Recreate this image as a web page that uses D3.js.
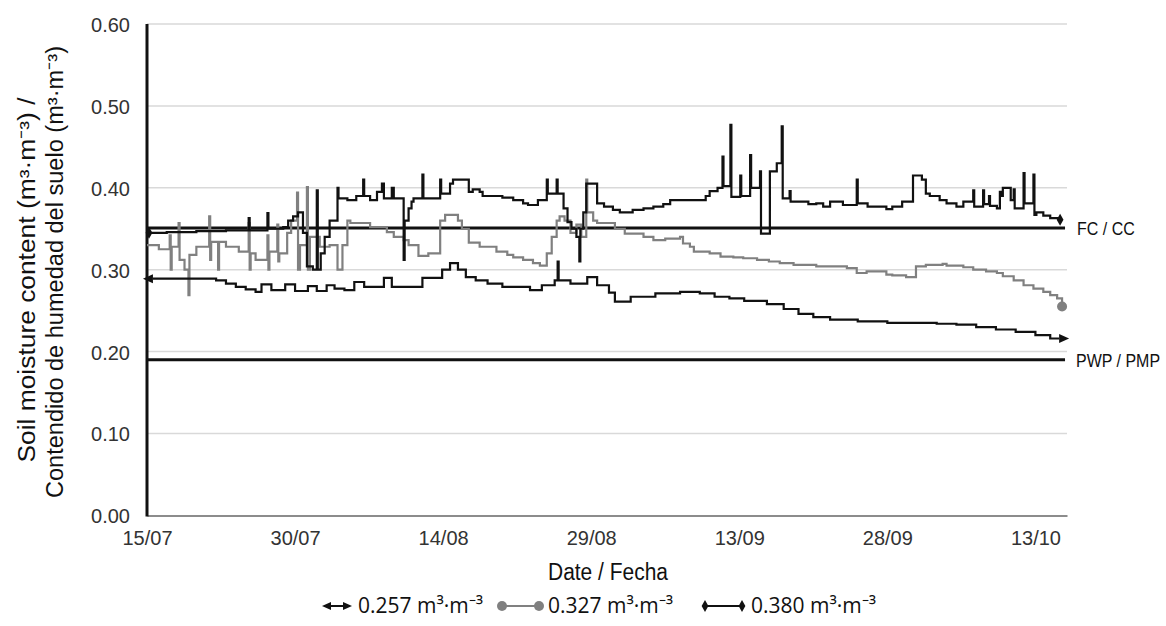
<!DOCTYPE html>
<html>
<head>
<meta charset="utf-8">
<title>Soil moisture</title>
<script src="https://d3js.org/d3.v7.min.js"></script>
<style>
  body { margin: 0; background: #fff; }
  .tick text { font-family: "Liberation Sans", Arial, sans-serif; font-size: 20px; fill: #333; }
  .narrow { font-family: "Liberation Sans", Arial, sans-serif; fill: #111; }
  .legend { font-family: "Open Sans", sans-serif; font-size: 21px; fill: #111; }
</style>
</head>
<body>
<div id="chart"></div>
<script>
// days since 15/07, value in m3.m-3
let yTicks = [0, 0.1, 0.2, 0.3, 0.4, 0.5, 0.6];
let xTickDays = [0, 15, 30, 45, 60, 75, 90];
let xTickLabels = ["15/07", "30/07", "14/08", "29/08", "13/09", "28/09", "13/10"];
let fcValue = 0.351;
let pwpValue = 0.19;
let seriesNames = ["0.257", "0.327", "0.380"];

let s257 = [
  [0.6, 0.289], [7, 0.287], [8, 0.283], [9, 0.279], [10, 0.276], [11, 0.273], [11.6, 0.282],
  [12.6, 0.275], [14, 0.282], [15, 0.274], [16.3, 0.28], [17.2, 0.274], [18.2, 0.281], [19, 0.277],
  [20, 0.275], [21, 0.285], [22, 0.279], [24, 0.29], [24.8, 0.279], [27.9, 0.29], [29.9, 0.30],
  [30.7, 0.308], [31.5, 0.30], [32.3, 0.291], [33.3, 0.287], [34.5, 0.283], [36, 0.279], [38.8, 0.275],
  [40, 0.281], [41.3, 0.287], [41.6, 0.31], [41.7, 0.287], [42.9, 0.283], [44.6, 0.291], [45.6, 0.281],
  [46.8, 0.272], [47.4, 0.261], [49, 0.267], [51.5, 0.271], [54, 0.273], [56, 0.271], [57.5, 0.267],
  [59, 0.265], [60.5, 0.262], [62.8, 0.258], [64.5, 0.252], [66, 0.246], [67.5, 0.242], [69.2, 0.239],
  [72, 0.237], [75, 0.235], [80, 0.234], [82, 0.233], [84, 0.23], [86, 0.227], [88, 0.224], [90, 0.22],
  [91.5, 0.216], [92.4, 0.216]
];

let s327 = [
  [0, 0.33], [1.2, 0.325], [2.3, 0.342], [2.4, 0.30], [2.5, 0.328], [3.2, 0.357], [3.3, 0.312],
  [3.8, 0.30], [4.2, 0.269], [4.3, 0.318], [5, 0.328], [6.3, 0.365], [6.4, 0.312], [6.5, 0.334],
  [7.2, 0.30], [7.3, 0.334], [8, 0.328], [9.3, 0.322], [10.3, 0.357], [10.4, 0.30], [10.5, 0.32],
  [11, 0.312], [12.2, 0.342], [12.3, 0.30], [12.4, 0.322], [13.2, 0.355], [13.3, 0.31], [13.4, 0.32],
  [14.2, 0.345], [14.6, 0.36], [15.2, 0.394], [15.3, 0.30], [15.5, 0.33], [16.2, 0.401], [16.3, 0.30],
  [16.5, 0.34], [17.5, 0.328], [18.5, 0.33], [19.3, 0.30], [19.8, 0.33], [20.3, 0.36], [20.6, 0.357],
  [22.6, 0.352], [24.3, 0.346], [25, 0.34], [26, 0.336], [26.5, 0.33], [27.5, 0.317], [28.5, 0.32],
  [29.7, 0.36], [30.2, 0.367], [31.5, 0.36], [31.9, 0.35], [32.6, 0.333], [33.7, 0.328], [35.4, 0.322],
  [36.5, 0.318], [37.1, 0.315], [38.1, 0.312], [39.1, 0.308], [39.8, 0.305], [40.5, 0.32], [41, 0.34],
  [41.5, 0.36], [41.8, 0.365], [42.3, 0.36], [42.9, 0.345], [43.5, 0.355], [44, 0.34], [44.5, 0.41],
  [44.6, 0.37], [45.2, 0.36], [45.6, 0.357], [47.4, 0.35], [48.4, 0.344], [50.3, 0.34], [51.3, 0.336],
  [52.5, 0.338], [54, 0.34], [54.3, 0.332], [55, 0.328], [55.4, 0.322], [57, 0.32], [58.1, 0.316],
  [59.4, 0.315], [60.4, 0.314], [61.8, 0.312], [63, 0.31], [64.1, 0.308], [65.5, 0.306], [67.8, 0.304],
  [70.9, 0.302], [71.9, 0.296], [72.9, 0.298], [74.9, 0.294], [75.5, 0.293], [76.9, 0.291], [77.9, 0.304],
  [78.9, 0.306], [80.6, 0.307], [81, 0.305], [82.7, 0.303], [83.7, 0.30], [85, 0.298], [86.1, 0.296],
  [86.7, 0.292], [87.8, 0.287], [88.8, 0.281], [89.8, 0.277], [90.8, 0.273], [91.5, 0.269], [92.2, 0.265],
  [92.7, 0.255]
];

let s380 = [
  [0, 0.345], [2, 0.346], [5, 0.347], [8, 0.348], [10.3, 0.363], [10.4, 0.348], [12.2, 0.369],
  [12.3, 0.35], [13.8, 0.352], [14.3, 0.36], [14.8, 0.365], [15.3, 0.37], [15.8, 0.345], [16.2, 0.304],
  [16.8, 0.30], [17.2, 0.397], [17.3, 0.30], [17.6, 0.32], [18, 0.34], [18.5, 0.36], [19.3, 0.40],
  [19.4, 0.387], [20.3, 0.385], [21.2, 0.39], [21.9, 0.41], [22, 0.39], [22.6, 0.385], [23.3, 0.395],
  [23.8, 0.405], [24, 0.387], [24.8, 0.40], [25, 0.387], [26, 0.312], [26.1, 0.36], [26.5, 0.375],
  [26.8, 0.383], [27, 0.387], [27.9, 0.416], [28, 0.387], [29.7, 0.41], [29.8, 0.393], [30.7, 0.405],
  [31, 0.41], [32.6, 0.395], [33, 0.398], [33.7, 0.395], [34, 0.39], [36, 0.388], [37.1, 0.385],
  [38.1, 0.381], [38.6, 0.379], [39.6, 0.385], [40.5, 0.41], [40.6, 0.393], [41.5, 0.41], [41.6, 0.393],
  [42.2, 0.375], [42.6, 0.358], [43, 0.35], [43.5, 0.34], [43.8, 0.31], [43.9, 0.35], [44.2, 0.37],
  [44.5, 0.405], [45.6, 0.381], [46.3, 0.377], [47.2, 0.373], [47.9, 0.37], [49.2, 0.373], [50.3, 0.375],
  [51.3, 0.377], [52.3, 0.38], [53, 0.385], [56.6, 0.39], [57, 0.396], [57.8, 0.40], [58.3, 0.438],
  [58.4, 0.402], [59.1, 0.477], [59.2, 0.389], [60.1, 0.415], [60.2, 0.39], [61.1, 0.44], [61.2, 0.40],
  [62.1, 0.42], [62.2, 0.344], [63.1, 0.42], [63.8, 0.43], [64.3, 0.475], [64.4, 0.387], [65.1, 0.396],
  [65.2, 0.383], [67, 0.38], [67.8, 0.381], [68.5, 0.377], [69.2, 0.383], [70.5, 0.379], [71.9, 0.41],
  [72, 0.381], [73, 0.377], [74.9, 0.374], [75.5, 0.377], [76.5, 0.383], [77.6, 0.415], [78.5, 0.41],
  [78.9, 0.393], [79.3, 0.39], [80.3, 0.385], [81, 0.381], [82, 0.377], [82.7, 0.383], [83.7, 0.397],
  [83.8, 0.377], [84.7, 0.397], [84.8, 0.38], [85.3, 0.39], [85.4, 0.378], [86.1, 0.375], [86.4, 0.395],
  [86.5, 0.39], [86.7, 0.40], [87.5, 0.385], [87.8, 0.398], [87.9, 0.375], [88.8, 0.418], [88.9, 0.381],
  [89.8, 0.416], [89.9, 0.367], [90.1, 0.37], [90.8, 0.366], [91.5, 0.363], [92.5, 0.361]
];

let W = 1166, H = 626;
let svg = d3.select("#chart").append("svg").attr("width", W).attr("height", H);

let x = d3.scaleLinear().domain([0, 93.2]).range([147, 1067]);
let y = d3.scaleLinear().domain([0, 0.6]).range([515.4, 24]);

// grid
svg.append("g").selectAll("line").data(yTicks.slice(1)).enter().append("line")
  .attr("x1", x(0)).attr("x2", x(93.2))
  .attr("y1", d => y(d)).attr("y2", d => y(d))
  .attr("stroke", "#d9d9d9").attr("stroke-width", 1.5);

// axes
let yAxis = d3.axisLeft(y).tickValues(yTicks).tickFormat(d3.format(".2f")).tickSize(0).tickPadding(17);
let gy = svg.append("g").attr("transform", "translate(" + x(0) + ",1)").call(yAxis);
gy.select(".domain").remove();

let xAxis = d3.axisBottom(x).tickValues(xTickDays).tickFormat((d, i) => xTickLabels[i]).tickSize(0).tickPadding(15);
let gx = svg.append("g").attr("transform", "translate(0," + y(0) + ")").call(xAxis);
gx.select(".domain").attr("stroke", "#8c8c8c").attr("stroke-width", 2);

svg.append("line").attr("x1", x(0)).attr("x2", x(0)).attr("y1", y(0.6)).attr("y2", y(0) + 1)
  .attr("stroke", "#111").attr("stroke-width", 3);

// reference lines
[fcValue, pwpValue].forEach(v => {
  svg.append("line").attr("x1", x(0)).attr("x2", x(93)).attr("y1", y(v)).attr("y2", y(v))
    .attr("stroke", "#111").attr("stroke-width", 3);
});

// condensed text: the font is squeezed to the width it has in the picture
function narrowText(px, py, str, size, len, rotate) {
  let t = svg.append("text").attr("class", "narrow")
    .style("font-size", size + "px")
    .attr("textLength", len).attr("lengthAdjust", "spacingAndGlyphs")
    .text(str);
  if (rotate) {
    t.attr("text-anchor", "middle").attr("transform", "translate(" + px + "," + py + ") rotate(-90)");
  } else {
    t.attr("x", px).attr("y", py);
  }
  return t;
}
// FC / PWP labels: small font, stretched upward so it stays inside the page
function sideLabel(px, py, str) {
  svg.append("text").attr("class", "narrow")
    .attr("transform", "translate(" + px + "," + py + ") scale(1,1.18)")
    .style("font-size", "16px").text(str);
}
sideLabel(1077, y(fcValue) + 7, "FC / CC");
sideLabel(1076, y(pwpValue) + 7, "PWP / PMP");

// series
let line = d3.line().x(d => x(d[0])).y(d => y(d[1])).curve(d3.curveStepAfter);
let series = [
  { data: s327, color: "#808080", w: 2.2 },
  { data: s257, color: "#111", w: 2.2 },
  { data: s380, color: "#111", w: 2.2 }
];
series.forEach(s => {
  svg.append("path").datum(s.data).attr("d", line)
    .attr("fill", "none").attr("stroke", s.color).attr("stroke-width", s.w)
    .attr("stroke-linejoin", "miter");
});

function arrow(g, px, py, dir, size) {
  g.append("path")
    .attr("d", "M" + (px + dir * size) + "," + py + " L" + px + "," + (py - size * 0.45) +
      " L" + px + "," + (py + size * 0.45) + " Z")
    .attr("fill", "#111");
}
function marker(g, type, px, py, color) {
  if (type === "circle") {
    g.append("circle").attr("cx", px).attr("cy", py).attr("r", 5).attr("fill", color);
  } else if (type === "diamond") {
    g.append("path").attr("transform", "translate(" + px + "," + py + ")")
      .attr("d", d3.symbol().type(d3.symbolDiamond).size(40)).attr("fill", color);
  }
}

// end markers
let a0 = s257[0], a1 = s257[s257.length - 1];
arrow(svg, x(a0[0]), y(a0[1]), -1, 10);
arrow(svg, x(a1[0]), y(a1[1]), 1, 10);
let b1 = s327[s327.length - 1];
marker(svg, "circle", x(b1[0]), y(b1[1]), "#808080");
let c0 = s380[0], c1 = s380[s380.length - 1];
marker(svg, "diamond", x(c0[0]) + 2, y(c0[1]), "#111");
marker(svg, "diamond", x(c1[0]), y(c1[1]), "#111");

// axis titles
narrowText(35, 280, "Soil moisture content (m³·m⁻³) /", 23, 365, true);
narrowText(63, 272, "Contendido de humedad del suelo (m³·m⁻³)", 23, 452, true);
narrowText(548, 580, "Date / Fecha", 23, 120, false);

// legend
let lg = svg.append("g");
let ly = 606;
let legendX = [322, 497, 700];
seriesNames.forEach((name, i) => {
  let lx = legendX[i];
  let col = i === 1 ? "#808080" : "#111";
  let tx;
  if (i === 0) {
    lg.append("line").attr("x1", lx + 6).attr("x2", lx + 24).attr("y1", ly).attr("y2", ly)
      .attr("stroke", col).attr("stroke-width", 2);
    arrow(lg, lx + 9, ly, -1, 9);
    arrow(lg, lx + 21, ly, 1, 9);
    tx = lx + 36;
  } else {
    lg.append("line").attr("x1", lx + 5).attr("x2", lx + 42).attr("y1", ly).attr("y2", ly)
      .attr("stroke", col).attr("stroke-width", 2);
    marker(lg, i === 1 ? "circle" : "diamond", lx + 5, ly, col);
    marker(lg, i === 1 ? "circle" : "diamond", lx + 42, ly, col);
    tx = lx + 51;
  }
  lg.append("text").attr("class", "legend").attr("x", tx).attr("y", ly + 7)
    .text(name + " m³·m⁻³");
});
</script>
</body>
</html>
